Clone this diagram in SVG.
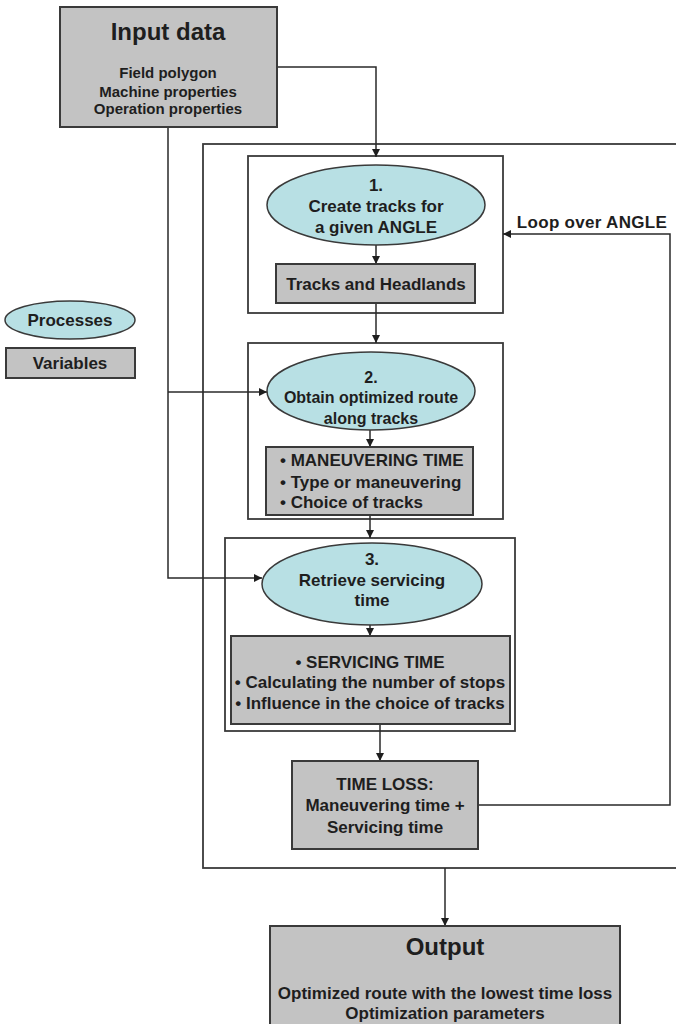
<svg xmlns="http://www.w3.org/2000/svg" width="676" height="1024" viewBox="0 0 676 1024">
<style>
text{font-family:"Liberation Sans",Arial,sans-serif;font-weight:bold;fill:#1e1e1e;text-anchor:middle}
.var{fill:#c3c3c3;stroke:#3a3a3a;stroke-width:2}
.proc{fill:#b8e0e4;stroke:#3a3a3a;stroke-width:1.5}
.frame{fill:none;stroke:#3a3a3a;stroke-width:1.8}
.c{fill:none;stroke:#2a2a2a;stroke-width:1.5}
.t17{font-size:17px}
.t16{font-size:16px}
.t15{font-size:15px}
.t24{font-size:24px}
</style>
<defs>
<marker id="ah" viewBox="0 0 10 10" refX="10" refY="5" markerWidth="8" markerHeight="8" markerUnits="userSpaceOnUse" orient="auto">
<path d="M0,0 L10,5 L0,10 z" fill="#1e1e1e"/>
</marker>
</defs>
<rect width="676" height="1024" fill="#ffffff"/>

<g id="outer-loop"><rect class="frame" x="203" y="144" width="500" height="724"/></g>
<g id="step1-frame"><rect class="frame" x="248" y="156" width="255" height="157"/></g>
<g id="step2-frame"><rect class="frame" x="248" y="343" width="255" height="176"/></g>
<g id="step3-frame"><rect class="frame" x="225" y="538" width="290" height="193"/></g>

<g id="connectors">
<path class="c" d="M277,67 H376 V157" marker-end="url(#ah)"/>
<path class="c" d="M168,127 V578 H262" marker-end="url(#ah)"/>
<path class="c" d="M168,392 H267" marker-end="url(#ah)"/>
<path class="c" d="M376,245 V264" marker-end="url(#ah)"/>
<path class="c" d="M376,303 V343" marker-end="url(#ah)"/>
<path class="c" d="M370,430 V447" marker-end="url(#ah)"/>
<path class="c" d="M370,515 V538" marker-end="url(#ah)"/>
<path class="c" d="M370,625 V636" marker-end="url(#ah)"/>
<path class="c" d="M380,724 V761" marker-end="url(#ah)"/>
<path class="c" d="M478,805 H670 V234 H503" marker-end="url(#ah)"/>
<path class="c" d="M445,868 V926" marker-end="url(#ah)"/>
<text class="t17" x="592" y="228" letter-spacing="0.3">Loop over ANGLE</text>
</g>

<g id="input-data">
<rect class="var" x="60" y="7" width="217" height="120"/>
<text class="t24" x="168" y="40">Input data</text>
<text class="t15" x="168" y="78">Field polygon</text>
<text class="t15" x="168" y="97">Machine properties</text>
<text class="t15" x="168" y="114">Operation properties</text>
</g>

<g id="legend-processes">
<ellipse class="proc" cx="70" cy="320" rx="65" ry="19"/>
<text class="t17" x="70" y="326">Processes</text>
</g>
<g id="legend-variables">
<rect class="var" x="6" y="348" width="129" height="30"/>
<text class="t17" x="70" y="369">Variables</text>
</g>

<g id="process1">
<ellipse class="proc" cx="376" cy="205" rx="109" ry="40"/>
<text class="t17" x="376" y="191">1.</text>
<text class="t17" x="376" y="212">Create tracks for</text>
<text class="t17" x="376" y="233">a given ANGLE</text>
</g>
<g id="tracks-headlands">
<rect class="var" x="276" y="264" width="199" height="39"/>
<text class="t17" x="376" y="290">Tracks and Headlands</text>
</g>

<g id="process2">
<ellipse class="proc" cx="371" cy="391" rx="104" ry="39"/>
<text class="t16" x="371" y="383">2.</text>
<text class="t16" x="371" y="403">Obtain optimized route</text>
<text class="t16" x="371" y="424">along tracks</text>
</g>
<g id="maneuvering-time">
<rect class="var" x="266" y="447" width="207" height="68"/>
<text class="t17" x="280" y="466" style="text-anchor:start">• MANEUVERING TIME</text>
<text class="t17" x="280" y="488" style="text-anchor:start">• Type or maneuvering</text>
<text class="t17" x="280" y="508" style="text-anchor:start">• Choice of tracks</text>
</g>

<g id="process3">
<ellipse class="proc" cx="372" cy="584" rx="110" ry="41"/>
<text class="t17" x="372" y="565">3.</text>
<text class="t17" x="372" y="586">Retrieve servicing</text>
<text class="t17" x="372" y="606">time</text>
</g>
<g id="servicing-time">
<rect class="var" x="231" y="636" width="279" height="88"/>
<text class="t17" x="370" y="668">• SERVICING TIME</text>
<text class="t17" x="370" y="688">• Calculating the number of stops</text>
<text class="t17" x="370" y="709">• Influence in the choice of tracks</text>
</g>

<g id="time-loss">
<rect class="var" x="292" y="761" width="186" height="88"/>
<text class="t17" x="385" y="790">TIME LOSS:</text>
<text class="t17" x="385" y="811">Maneuvering time +</text>
<text class="t17" x="385" y="833">Servicing time</text>
</g>

<g id="output">
<rect class="var" x="270" y="926" width="350" height="110"/>
<text class="t24" x="445" y="955">Output</text>
<text class="t17" x="445" y="999">Optimized route with the lowest time loss</text>
<text class="t17" x="445" y="1019">Optimization parameters</text>
</g>
</svg>
